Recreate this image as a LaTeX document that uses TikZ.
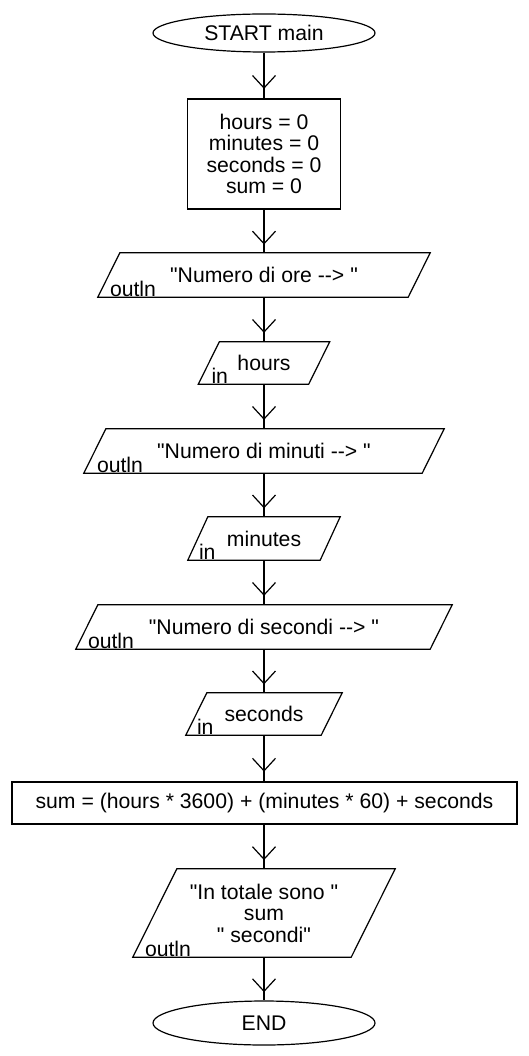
\documentclass[tikz,border=0pt]{standalone}
\usepackage{fontspec}
\newfontfamily\plainsans{Liberation Sans}
\usetikzlibrary{shapes.geometric,decorations.markings,calc}
\begin{document}
\begin{tikzpicture}[x=1pt,y=-1pt,
  every node/.style={font=\plainsans\fontsize{21.2}{21.5}\selectfont, inner sep=0pt},
  outline/.style={line width=1.2pt},
  term/.style={ellipse, draw, line width=1.2pt, minimum width=222pt},
  proc/.style={rectangle, draw, line width=1.2pt, align=center},
  io/.style={rectangle, align=center},
  tag/.style={anchor=base west},
  flow/.style={line width=1.2pt, postaction={decorate},
    decoration={markings, mark=at position 0.5 with {\draw[line width=1.2pt] (0pt,-11.5pt) -- (12.5pt,0pt) -- (0pt,11.5pt);}}}
]
\useasboundingbox[fill=white] (0,0) rectangle (528,1056);

\node[term, minimum height=38pt] (start) at (264,33) {START main};
\node[proc, minimum width=153pt, minimum height=110pt] (init) at (264,154) {hours = 0\\minutes = 0\\seconds = 0\\sum = 0};
\node[io, minimum width=332pt, minimum height=44pt] (p1) at (264,275) {"Numero di ore -{}->~"};
\node[io, minimum width=131pt, minimum height=42pt] (p2) at (264,363) {hours};
\node[io, minimum width=360pt, minimum height=44pt] (p3) at (264,451) {"Numero di minuti -{}->~"};
\node[io, minimum width=152pt, minimum height=43pt] (p4) at (264,538.5) {minutes};
\node[io, minimum width=376pt, minimum height=44pt] (p5) at (264,627) {"Numero di secondi -{}->~"};
\node[io, minimum width=156pt, minimum height=42pt] (p6) at (264,714) {seconds};
\node[proc, minimum width=505pt, minimum height=42pt] (sum) at (264.5,803) {sum = (hours * 3600) + (minutes * 60) + seconds};
\node[io, minimum width=262pt, minimum height=88pt] (p7) at (264,913) {"In totale sono~"\\sum\\"~secondi"};
\node[term, minimum height=44pt] (end) at (264,1023) {END};

\foreach \n/\s in {p1/22,p2/21,p3/22,p4/20,p5/22,p6/21,p7/44}
  \draw[outline] ($(\n.north west)+(\s,0)$) -- (\n.north east) -- ($(\n.south east)+(-\s,0)$) -- (\n.south west) -- cycle;

\node[tag] (t1) at ($(p1.south west)+(12,-1)$) {outln};
\node[tag] (t2) at ($(p2.south west)+(13,-1)$) {in};
\node[tag] (t3) at ($(p3.south west)+(13,-1)$) {outln};
\node[tag] (t4) at ($(p4.south west)+(11,-1)$) {in};
\node[tag] (t5) at ($(p5.south west)+(12,-1)$) {outln};
\node[tag] (t6) at ($(p6.south west)+(11,-1)$) {in};
\node[tag] (t7) at ($(p7.south west)+(12,-1)$) {outln};

\draw[flow] (start) -- (init);
\draw[flow] (init) -- (p1);
\draw[flow] (p1) -- (p2);
\draw[flow] (p2) -- (p3);
\draw[flow] (p3) -- (p4);
\draw[flow] (p4) -- (p5);
\draw[flow] (p5) -- (p6);
\draw[flow] (p6) -- (sum.north -| p6);
\draw[flow] (sum.south -| p7) -- (p7);
\draw[flow] (p7) -- (end);
\end{tikzpicture}
\end{document}
